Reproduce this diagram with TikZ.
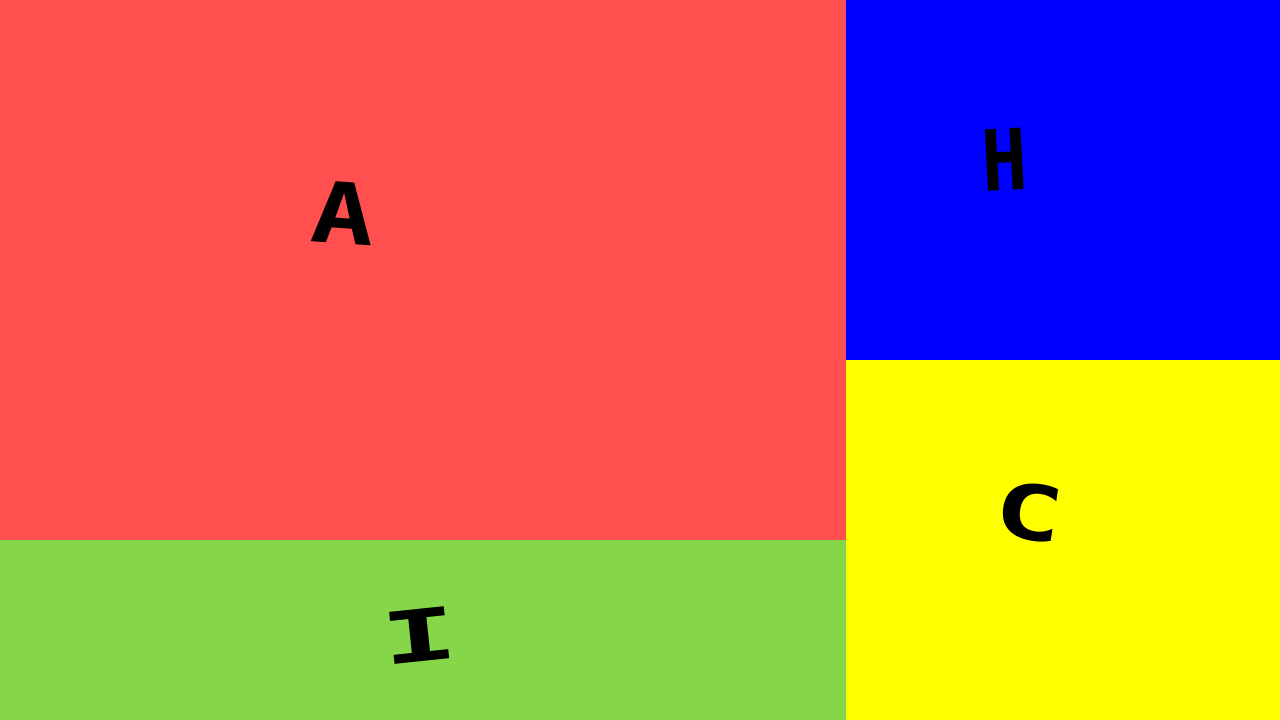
\documentclass[tikz,border=0pt]{standalone}
\usepackage{fontspec}
\setmainfont{Poppins}
\newfontfamily\letterfont{DejaVu Sans Mono}
\usepackage{xcolor}
\usetikzlibrary{positioning, calc}

\definecolor{tilered}{HTML}{FF4F4F}
\definecolor{tilegreen}{HTML}{86D64A}
\definecolor{tileblue}{HTML}{0000FF}
\definecolor{tileyellow}{HTML}{FFFF00}

\begin{document}
\begin{tikzpicture}[
    tile/.style={anchor=north west, inner sep=0pt, outer sep=0pt},
    letter/.style={font=\letterfont\fontsize{24}{30}\selectfont\bfseries, text=black, inner sep=0pt}
]

\useasboundingbox (0,0) rectangle (12.8,7.2);

% tiles
\node[tile, fill=tilered, minimum width=8.46cm, minimum height=5.4cm] (red) at (0,7.2) {};
\node[tile, fill=tilegreen, minimum width=8.46cm, minimum height=1.8cm] (green) at (0,1.8) {};
\node[tile, fill=tileblue, minimum width=4.34cm, minimum height=3.6cm] (blue) at (8.46,7.2) {};
\node[tile, fill=tileyellow, minimum width=4.34cm, minimum height=3.6cm] (yellow) at (8.46,3.6) {};

% letters
\node[letter, rotate=-4, xscale=1.25] (la) at (3.43,5.07) {A};
\node[letter, rotate=3, xscale=0.9] (lh) at (10.05,5.6) {H};
\node[letter, rotate=-8, xscale=1.35, yscale=0.9] (lc) at (10.29,2.08) {C};
\node[letter, rotate=6, xscale=1.5, yscale=0.85] (li) at (4.20,0.84) {I};

\end{tikzpicture}
\end{document}
